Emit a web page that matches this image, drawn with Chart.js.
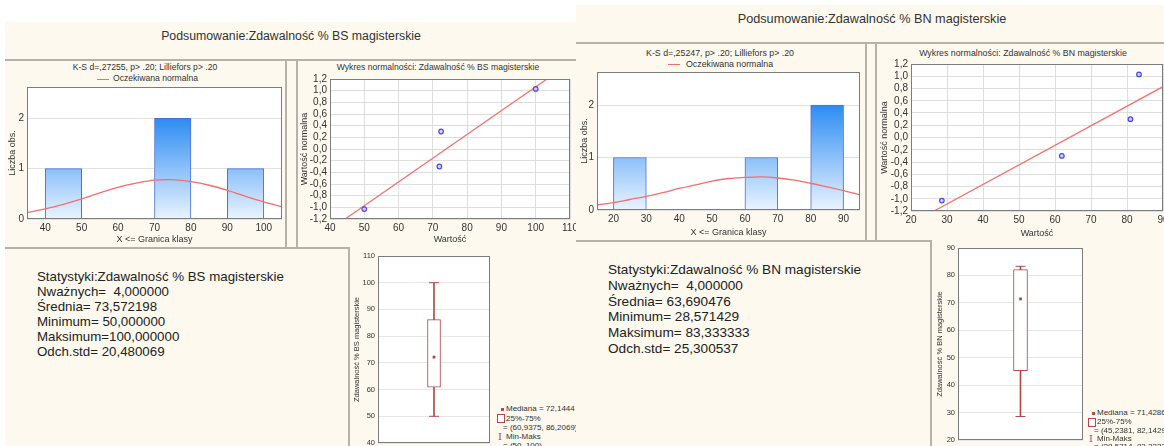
<!DOCTYPE html>
<html lang="pl">
<head>
<meta charset="utf-8">
<title>Podsumowanie: Zdawalność % BS / BN magisterskie</title>
<script src="https://cdn.jsdelivr.net/npm/chart.js@4.4.1/dist/chart.umd.min.js"></script>
<style>
  body { margin:0; width:1164px; height:446px; overflow:hidden; background:#fff; position:relative;
         font-family:'Liberation Sans', Arial, sans-serif; color:#222; }
  .bg { position:absolute; background:#fdf9ee; }
  .ln { position:absolute; background:#b5b2aa; }
  .t { position:absolute; white-space:nowrap; transform:translate(-50%,-50%); line-height:1.15; }
  .tl { position:absolute; white-space:nowrap; transform:translateY(-50%); line-height:1.15; }
  canvas { position:absolute; }
  .stats { position:absolute; white-space:pre; }
  .redline { position:absolute; height:1px; background:#f07070; }
  .dot { position:absolute; width:3px; height:3px; background:#b34a4a; }
  .sq { position:absolute; width:6px; height:7px; border:1px solid #b34a4a; background:#fff; }
  .ibar { position:absolute; font-family:'DejaVu Serif', serif; color:#b34a4a; font-size:10px; line-height:10px; }
</style>
</head>
<body>

<!-- lewy panel: BS -->
<div class="bg" style="left:5px;top:22px;width:571px;height:424px"></div>
<div class="t" style="left:291px;top:36px;font-size:12.3px;color:#333">Podsumowanie:Zdawalność % BS magisterskie</div>
<div class="ln" style="left:5px;top:59px;width:571px;height:2px"></div>
<div class="ln" style="left:285px;top:60px;width:2px;height:188px"></div>
<div class="ln" style="left:296px;top:60px;width:2px;height:188px"></div>
<div class="ln" style="left:5px;top:247px;width:345px;height:2px"></div>
<div class="ln" style="left:348px;top:248px;width:2px;height:198px"></div>

<div class="t" style="left:145px;top:68px;font-size:8.6px;color:#333">K-S d=,27255, p&gt; .20; Lilliefors p&gt; .20</div>
<div class="redline" style="left:97px;top:79px;width:12px"></div>
<div class="tl" style="left:113px;top:79px;font-size:8.6px;color:#333">Oczekiwana normalna</div>
<div class="t" style="left:438px;top:68px;font-size:8.6px;color:#333">Wykres normalności: Zdawalność % BS magisterskie</div>

<canvas id="histBS" width="279" height="168" style="left:6px;top:78px"></canvas>
<canvas id="normBS" width="284" height="176" style="left:298px;top:70px"></canvas>

<div class="stats" style="left:37px;top:269px;font-size:13.3px;line-height:15px">Statystyki:Zdawalność % BS magisterskie
Nważnych=  4,000000
Średnia= 73,572198
Minimum= 50,000000
Maksimum=100,000000
Odch.std= 20,480069</div>

<canvas id="boxBS" width="146" height="203" style="left:350px;top:248px"></canvas>
<div class="dot" style="left:501px;top:408px"></div>
<div class="tl" style="left:506px;top:409px;font-size:8px;color:#333">Mediana = 72,1444</div>
<div class="sq" style="left:497px;top:414px"></div>
<div class="tl" style="left:506px;top:419px;font-size:8px;color:#333">25%-75%</div>
<div class="tl" style="left:503px;top:428px;font-size:8px;color:#333">= (60,9375, 86,2069)</div>
<div class="ibar" style="left:498px;top:432px">I</div>
<div class="tl" style="left:506px;top:437px;font-size:8px;color:#333">Min-Maks</div>
<div class="tl" style="left:503px;top:446px;font-size:8px;color:#333">= (50, 100)</div>

<!-- prawy panel: BN -->
<div class="bg" style="left:576px;top:5px;width:588px;height:441px"></div>
<div class="t" style="left:872px;top:19px;font-size:12.7px;color:#333">Podsumowanie:Zdawalność % BN magisterskie</div>
<div class="ln" style="left:576px;top:42px;width:588px;height:2px"></div>
<div class="ln" style="left:865px;top:43px;width:2px;height:198px"></div>
<div class="ln" style="left:875px;top:43px;width:2px;height:198px"></div>
<div class="ln" style="left:576px;top:240px;width:356px;height:2px"></div>
<div class="ln" style="left:930px;top:241px;width:2px;height:205px"></div>

<div class="t" style="left:720px;top:53px;font-size:8.8px;color:#333">K-S d=,25247, p&gt; .20; Lilliefors p&gt; .20</div>
<div class="redline" style="left:668px;top:64px;width:12px"></div>
<div class="tl" style="left:686px;top:64px;font-size:8.8px;color:#333">Oczekiwana normalna</div>
<div class="t" style="left:1023px;top:53px;font-size:8.8px;color:#333">Wykres normalności: Zdawalność % BN magisterskie</div>

<canvas id="histBN" width="288" height="178" style="left:578px;top:63px"></canvas>
<canvas id="normBN" width="298" height="186" style="left:877px;top:55px"></canvas>

<div class="stats" style="left:608px;top:262px;font-size:13.6px;line-height:15.8px">Statystyki:Zdawalność % BN magisterskie
Nważnych=  4,000000
Średnia= 63,690476
Minimum= 28,571429
Maksimum= 83,333333
Odch.std= 25,300537</div>

<canvas id="boxBN" width="157" height="210" style="left:932px;top:240px"></canvas>
<div class="dot" style="left:1092px;top:412px"></div>
<div class="tl" style="left:1097px;top:413px;font-size:8px;color:#333">Mediana = 71,4286</div>
<div class="sq" style="left:1088px;top:418px"></div>
<div class="tl" style="left:1097px;top:422px;font-size:8px;color:#333">25%-75%</div>
<div class="tl" style="left:1094px;top:431px;font-size:8px;color:#333">= (45,2381, 82,1429)</div>
<div class="ibar" style="left:1089px;top:434px">I</div>
<div class="tl" style="left:1097px;top:439px;font-size:8px;color:#333">Min-Maks</div>
<div class="tl" style="left:1094px;top:447px;font-size:8px;color:#333">= (28,5714, 83,3333)</div>

<script>
// --- dane: Zdawalność % BS magisterskie ---
const bsBinCenters = [45, 75, 95];
const bsCounts = [1, 2, 1];
const bsCurveX = [35, 40, 45, 50, 55, 60, 65, 70, 75, 80, 85, 90, 95, 100, 105];
const bsCurveY = [0.13, 0.20, 0.29, 0.40, 0.52, 0.63, 0.71, 0.77, 0.78, 0.74, 0.67, 0.57, 0.45, 0.34, 0.24];
const bsHistTicks = [40, 50, 60, 70, 80, 90, 100];
const bsValues = [50, 71.9, 72.4, 100];
const bsScores = [-1.03, -0.30, 0.30, 1.03];
const bsFitX = [44.4, 103.3];
const bsFitY = [-1.2, 1.2];
const bsNormTicks = [40, 50, 60, 70, 80, 90, 100, 110];
const bsBoxStats = [50, 60.9375, 72.1444, 86.2069, 100]; // min, q1, mediana, q3, max
const bsBoxTicks = [40, 50, 60, 70, 80, 90, 100, 110];

// --- dane: Zdawalność % BN magisterskie ---
const bnBinCenters = [25, 65, 85];
const bnCounts = [1, 1, 2];
const bnCurveX = [15, 20, 25, 30, 35, 40, 45, 50, 55, 60, 65, 70, 75, 80, 85, 90, 95];
const bnCurveY = [0.10, 0.14, 0.20, 0.26, 0.33, 0.41, 0.48, 0.55, 0.60, 0.62, 0.63, 0.61, 0.57, 0.51, 0.44, 0.37, 0.29];
const bnHistTicks = [20, 30, 40, 50, 60, 70, 80, 90];
const bnValues = [28.57, 61.9, 80.95, 83.33];
const bnScores = [-1.03, -0.30, 0.30, 1.03];
const bnFitX = [26.4, 90];
const bnFitY = [-1.2, 0.83];
const bnNormTicks = [20, 30, 40, 50, 60, 70, 80, 90];
const bnBoxStats = [28.5714, 45.2381, 71.4286, 82.1429, 83.3333];
const bnBoxTicks = [20, 30, 40, 50, 60, 70, 80, 90];

const histYTicks = [0, 1, 2];
const normYTicks = [-1.2, -1.0, -0.8, -0.6, -0.4, -0.2, 0, 0.2, 0.4, 0.6, 0.8, 1.0, 1.2];

Chart.defaults.font.family = "'Liberation Sans', Arial, sans-serif";
Chart.defaults.color = '#333';

const boxRed = '#b34a4a';

// białe tło pola wykresu i ramka dookoła
const plotFrame = {
  id: 'plotFrame',
  beforeDraw(chart) {
    const { ctx, chartArea: a } = chart;
    ctx.save();
    ctx.fillStyle = '#fff';
    ctx.fillRect(a.left, a.top, a.width, a.height);
    ctx.restore();
  },
  afterDraw(chart) {
    const { ctx, chartArea: a } = chart;
    ctx.save();
    ctx.strokeStyle = '#7d7d7d';
    ctx.lineWidth = 1;
    ctx.strokeRect(Math.round(a.left) + 0.5, Math.round(a.top) + 0.5, Math.round(a.width) - 1, Math.round(a.height) - 1);
    ctx.restore();
  }
};

function fixTicks(values) {
  return scale => { scale.ticks = values.map(v => ({ value: v })); };
}

function comma(v) {
  return v.toFixed(1).replace('.', ',');
}

function barGradient(context) {
  const chart = context.chart;
  if (!chart.chartArea) return '#8cc2f8';
  const y = chart.scales.y;
  const g = chart.ctx.createLinearGradient(0, y.getPixelForValue(0), 0, y.getPixelForValue(2));
  g.addColorStop(0, '#eaf4ff');
  g.addColorStop(1, '#2c8cf2');
  return g;
}

function createHistogram(id, o) {
  new Chart(document.getElementById(id), {
    type: 'bar',
    data: {
      datasets: [
        {
          type: 'line',
          data: o.curveX.map((x, i) => ({ x: x, y: o.curveY[i] })),
          borderColor: '#f26f6f',
          borderWidth: 1.3,
          pointRadius: 0,
          tension: 0.35,
          order: 0
        },
        {
          type: 'bar',
          data: o.centers.map((x, i) => ({ x: x, y: o.counts[i] })),
          backgroundColor: barGradient,
          borderColor: '#4b6fd6',
          borderWidth: 1,
          barPercentage: 1,
          categoryPercentage: 1,
          order: 1
        }
      ]
    },
    options: {
      responsive: false,
      animation: false,
      layout: { padding: { top: 5, right: o.padRight, left: 0, bottom: 0 } },
      plugins: { legend: { display: false }, tooltip: { enabled: false } },
      scales: {
        x: {
          type: 'linear', offset: false, min: o.xMin, max: o.xMax,
          afterBuildTicks: fixTicks(o.xTicks),
          afterFit: s => { s.height = o.xH; },
          grid: { display: false, offset: false, drawTicks: false },
          border: { display: false },
          ticks: { font: { size: 10 }, padding: 3, maxRotation: 0, autoSkip: false },
          title: { display: true, text: 'X <= Granica klasy', font: { size: 9 }, padding: { top: 0, bottom: o.xTitlePad } }
        },
        y: {
          min: 0, max: o.yMax,
          afterBuildTicks: fixTicks(histYTicks),
          afterFit: s => { s.width = o.yW; },
          grid: { color: '#e2e2e2', drawTicks: false },
          border: { display: false },
          ticks: { font: { size: 10 }, padding: 3 },
          title: { display: true, text: 'Liczba obs.', font: { size: 9 }, padding: { top: 1, bottom: 0 } }
        }
      }
    },
    plugins: [plotFrame]
  });
}

function createNormPlot(id, o) {
  new Chart(document.getElementById(id), {
    type: 'scatter',
    data: {
      datasets: [
        {
          data: o.values.map((x, i) => ({ x: x, y: o.scores[i] })),
          pointStyle: 'circle',
          pointRadius: 2.3,
          borderColor: '#4848f0',
          backgroundColor: 'rgba(195,195,255,0.7)',
          borderWidth: 1.2,
          order: 0
        },
        {
          data: o.fitX.map((x, i) => ({ x: x, y: o.fitY[i] })),
          showLine: true,
          pointRadius: 0,
          borderColor: '#f07474',
          borderWidth: 1.3,
          order: 1
        }
      ]
    },
    options: {
      responsive: false,
      animation: false,
      layout: { padding: { top: 8, right: o.padRight, left: 0, bottom: 0 } },
      plugins: { legend: { display: false }, tooltip: { enabled: false } },
      scales: {
        x: {
          type: 'linear', min: o.xMin, max: o.xMax,
          afterBuildTicks: fixTicks(o.xTicks),
          afterFit: s => { s.height = o.xH; },
          grid: { color: '#dedede', drawTicks: false },
          border: { display: false },
          ticks: { font: { size: 10 }, padding: 3, maxRotation: 0, autoSkip: false },
          title: { display: true, text: 'Wartość', font: { size: 9 }, padding: { top: 0, bottom: o.xTitlePad } }
        },
        y: {
          min: -1.2, max: 1.2,
          afterBuildTicks: fixTicks(normYTicks),
          afterFit: s => { s.width = o.yW; },
          grid: { color: '#dedede', drawTicks: false },
          border: { display: false },
          ticks: { font: { size: 10 }, padding: 3, autoSkip: false, callback: v => comma(v) },
          title: { display: true, text: 'Wartość normalna', font: { size: 9 }, padding: { top: o.yTitlePad, bottom: 0 } }
        }
      }
    },
    plugins: [plotFrame]
  });
}

function createBoxPlot(id, o) {
  const s = o.stats;
  new Chart(document.getElementById(id), {
    type: 'bar',
    data: {
      datasets: [
        { type: 'scatter', data: [{ x: 1, y: s[2] }], pointStyle: 'rect', pointRadius: 2,
          backgroundColor: boxRed, borderWidth: 0, order: 0 },
        { type: 'scatter', data: [{ x: 1, y: s[0] }, { x: 1, y: s[4] }], pointStyle: 'line', pointRadius: 5,
          borderColor: boxRed, borderWidth: 1, order: 0 },
        { type: 'bar', data: [{ x: 1, y: [s[1], s[3]] }], backgroundColor: '#fff', borderColor: boxRed,
          borderWidth: 1, borderSkipped: false, barThickness: o.boxW, grouped: false, order: 1 },
        { type: 'bar', data: [{ x: 1, y: [s[0], s[4]] }], backgroundColor: boxRed, borderWidth: 0,
          barThickness: 1, grouped: false, order: 2 }
      ]
    },
    options: {
      responsive: false,
      animation: false,
      layout: { padding: { top: 8, right: 4, left: 0, bottom: o.padBottom } },
      plugins: { legend: { display: false }, tooltip: { enabled: false } },
      scales: {
        x: { type: 'linear', display: false, min: 0, max: 2, offset: false },
        y: {
          min: o.yMin, max: o.yMax,
          afterBuildTicks: fixTicks(o.yTicks),
          afterFit: sc => { sc.width = o.yW; },
          grid: { color: '#e6e6e6', drawTicks: false },
          border: { display: false },
          ticks: { font: { size: 7.5 }, padding: 3, autoSkip: false },
          title: { display: true, text: o.title, font: { size: 7.5 }, padding: { top: o.yTitlePad, bottom: 0 } }
        }
      }
    },
    plugins: [plotFrame]
  });
}

window.addEventListener('DOMContentLoaded', function () {
  createHistogram('histBS', {
    centers: bsBinCenters, counts: bsCounts, curveX: bsCurveX, curveY: bsCurveY, xTicks: bsHistTicks,
    xMin: 35, xMax: 105, yMax: 2.62, yW: 21, xH: 27, padRight: 3, xTitlePad: 1
  });
  createNormPlot('normBS', {
    values: bsValues, scores: bsScores, fitX: bsFitX, fitY: bsFitY, xTicks: bsNormTicks,
    xMin: 40, xMax: 110, yW: 32, xH: 27, padRight: 12, xTitlePad: 1, yTitlePad: 1
  });
  createBoxPlot('boxBS', {
    stats: bsBoxStats, yTicks: bsBoxTicks, yMin: 40, yMax: 110, yW: 28, boxW: 13, padBottom: 8,
    yTitlePad: 2, title: 'Zdawalność % BS magisterskie'
  });

  createHistogram('histBN', {
    centers: bnBinCenters, counts: bnCounts, curveX: bnCurveX, curveY: bnCurveY, xTicks: bnHistTicks,
    xMin: 15, xMax: 95, yMax: 2.63, yW: 19, xH: 31, padRight: 6, xTitlePad: 3
  });
  createNormPlot('normBN', {
    values: bnValues, scores: bnScores, fitX: bnFitX, fitY: bnFitY, xTicks: bnNormTicks,
    xMin: 20, xMax: 90, yW: 34, xH: 30, padRight: 12, xTitlePad: 2, yTitlePad: 2
  });
  createBoxPlot('boxBN', {
    stats: bnBoxStats, yTicks: bnBoxTicks, yMin: 20, yMax: 90, yW: 26, boxW: 14, padBottom: 10,
    yTitlePad: 3, title: 'Zdawalność % BN magisterskie'
  });
});
</script>
</body>
</html>
